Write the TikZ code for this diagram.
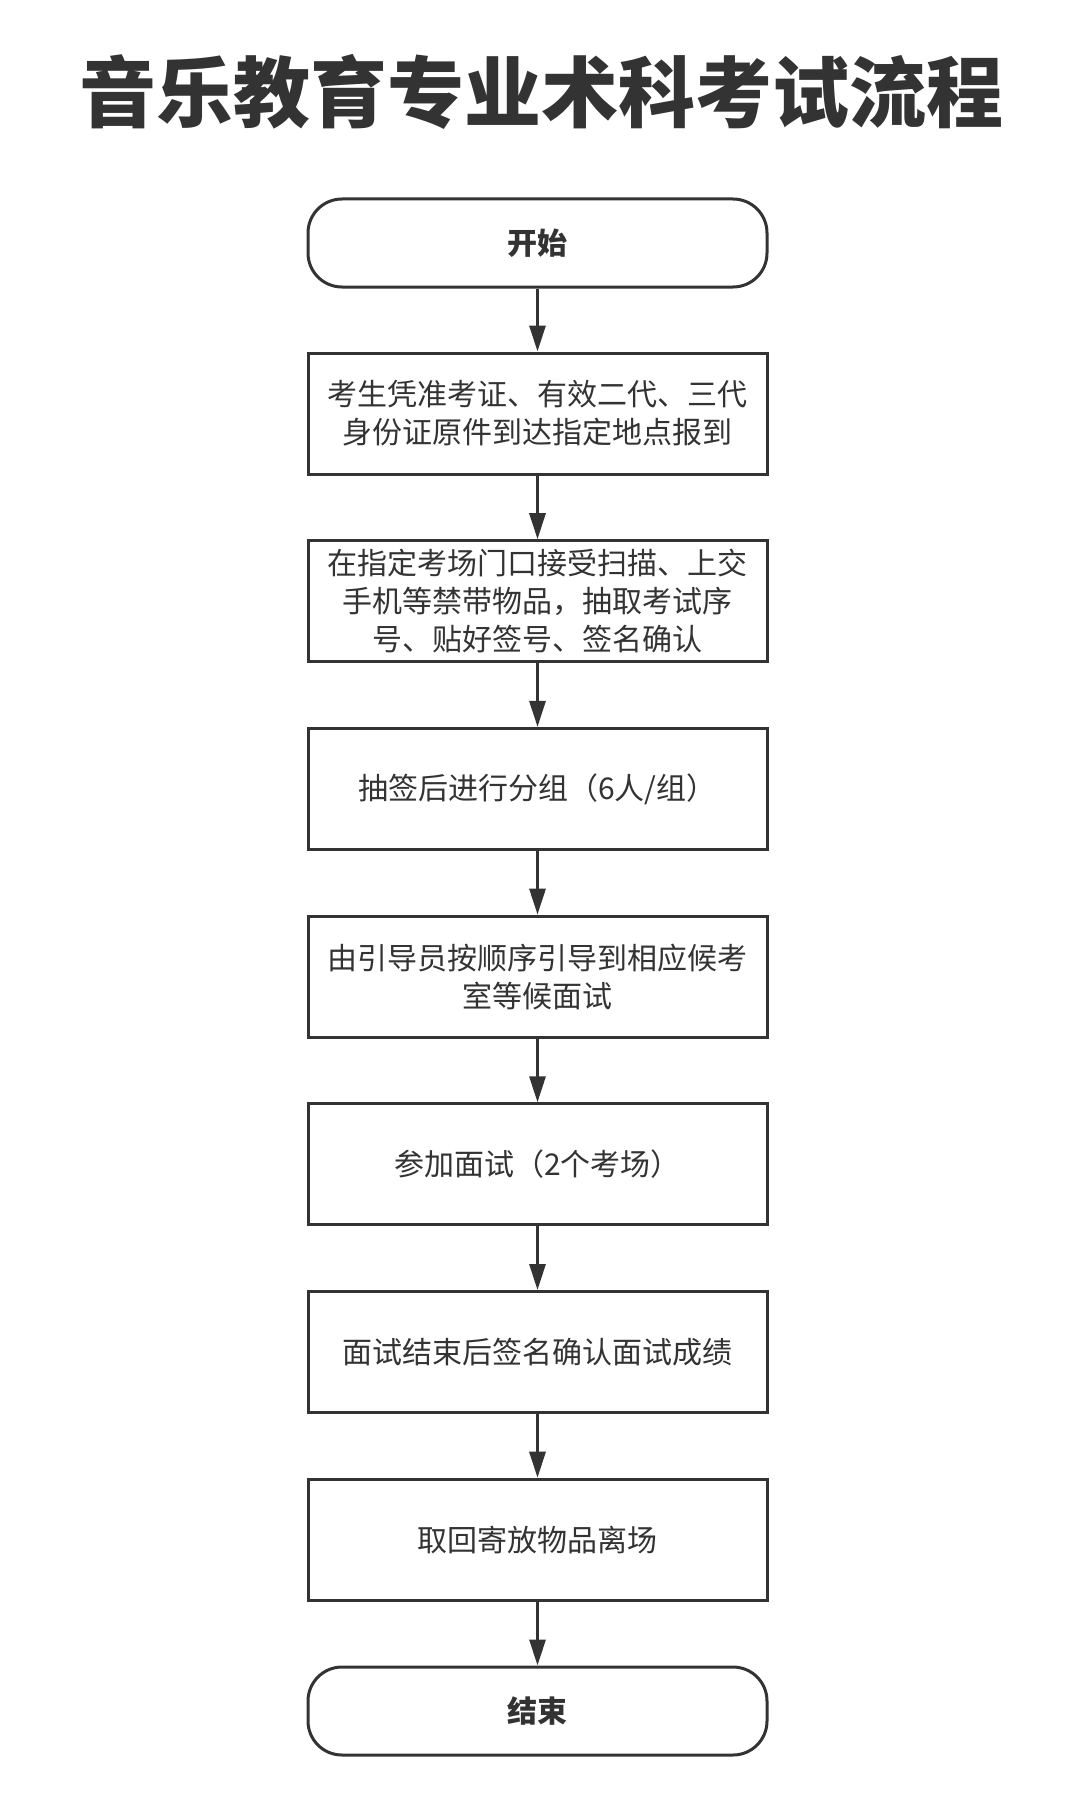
\documentclass[tikz,border=0pt]{standalone}
\usepackage{fontspec}
\setmainfont{Noto Sans CJK SC}
\usetikzlibrary{arrows.meta}
\definecolor{ink}{HTML}{333333}
\tikzset{
  stepbox/.style={draw=ink, line width=3pt, minimum width=459pt, minimum height=121pt, align=center, text=ink, font=\fontsize{30pt}{38pt}\selectfont, inner sep=0pt},
  termbox/.style={draw=ink, line width=3pt, minimum width=459pt, minimum height=88pt, rounded corners=34pt, align=center, text=ink, font=\fontsize{30pt}{38pt}\selectfont\bfseries, inner sep=0pt},
  flow/.style={draw=ink, line width=3pt, -{Triangle[length=26pt,width=16pt]}}
}
\begin{document}
\begin{tikzpicture}[x=1pt,y=1pt]
\useasboundingbox (0,0) rectangle (1080,-1803);
\fill[white] (0,0) rectangle (1080,-1803);
\node[text=ink, font=\fontsize{77pt}{82pt}\selectfont\bfseries] (title) at (541,-92) {音乐教育专业术科考试流程};
\node[termbox] (start) at (537.5,-243) {开始};
\node[stepbox] (b1) at (537.5,-413.5) {考生凭准考证、有效二代、三代\\身份证原件到达指定地点报到};
\node[stepbox] (b2) at (537.5,-601.2) {在指定考场门口接受扫描、上交\\手机等禁带物品，抽取考试序\\号、贴好签号、签名确认};
\node[stepbox] (b3) at (537.5,-788.9) {抽签后进行分组（6人/组）};
\node[stepbox] (b4) at (537.5,-976.6) {由引导员按顺序引导到相应候考\\室等候面试};
\node[stepbox] (b5) at (537.5,-1164.3) {参加面试（2个考场）};
\node[stepbox] (b6) at (537.5,-1352) {面试结束后签名确认面试成绩};
\node[stepbox] (b7) at (537.5,-1539.7) {取回寄放物品离场};
\node[termbox] (end) at (537.5,-1711) {结束};
\draw[flow] (start) -- (b1);
\draw[flow] (b1) -- (b2);
\draw[flow] (b2) -- (b3);
\draw[flow] (b3) -- (b4);
\draw[flow] (b4) -- (b5);
\draw[flow] (b5) -- (b6);
\draw[flow] (b6) -- (b7);
\draw[flow] (b7) -- (end);
\end{tikzpicture}
\end{document}
